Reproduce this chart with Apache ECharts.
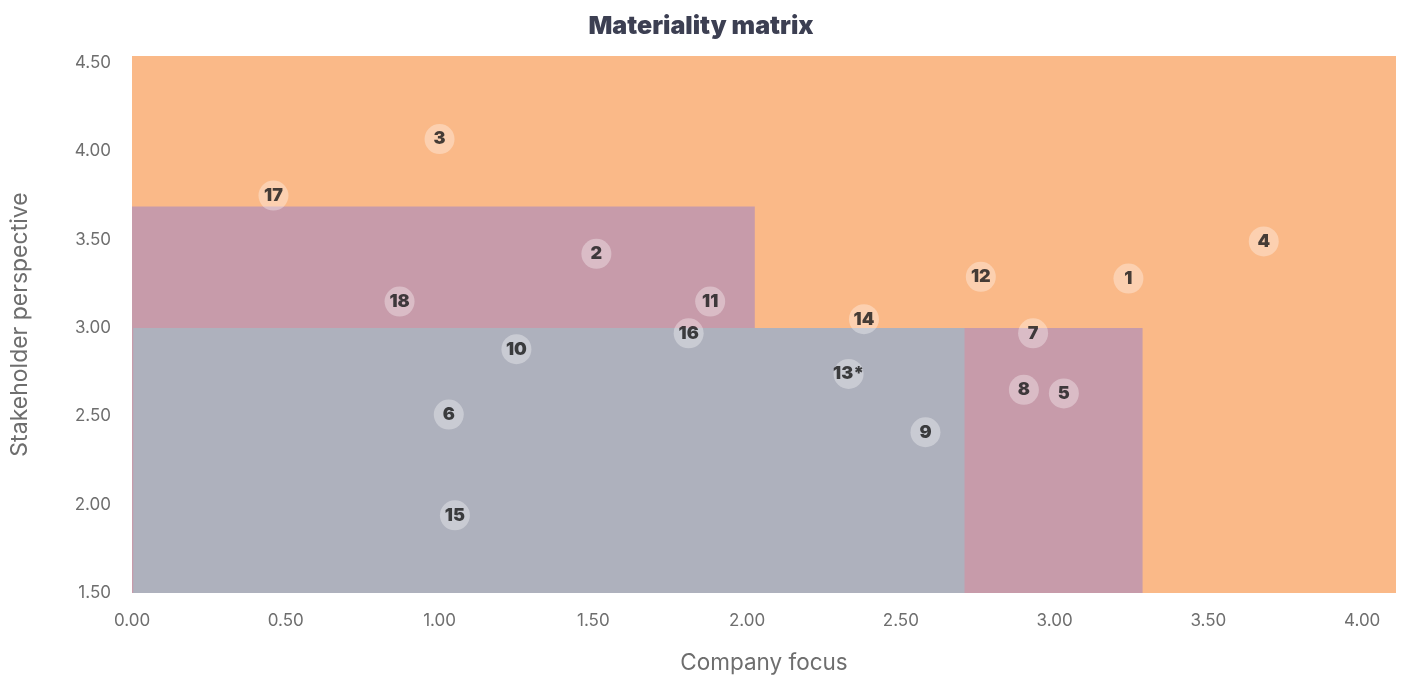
<!DOCTYPE html>
<html>
<head>
<meta charset="utf-8">
<title>Materiality matrix</title>
<script src="https://cdn.jsdelivr.net/npm/echarts@6/dist/echarts.min.js"></script>
<style>
  html, body { margin: 0; padding: 0; background: #ffffff; }
  #chart { width: 1402px; height: 680px; }
</style>
</head>
<body>
<div id="chart"></div>
<script>
// Topic identifiers and their scores
const topicIds = ['1', '2', '3', '4', '5', '6', '7', '8', '9', '10', '11', '12', '13*', '14', '15', '16', '17', '18'];
const companyFocus = [3.24, 1.51, 1.00, 3.68, 3.03, 1.03, 2.93, 2.90, 2.58, 1.25, 1.88, 2.76, 2.33, 2.38, 1.05, 1.81, 0.46, 0.87];
const stakeholderPerspective = [3.28, 3.42, 4.07, 3.49, 2.63, 2.51, 2.97, 2.65, 2.41, 2.88, 3.15, 3.29, 2.74, 3.05, 1.94, 2.97, 3.75, 3.15];

// Priority zones (drawn in this order, later ones on top)
const zoneNames = ['high', 'medium-upper', 'medium-lower', 'low'];
const zoneXFrom = [0, 0, 0, 0.004];
const zoneXTo = [4.11, 2.025, 3.286, 2.707];
const zoneYFrom = [1.5, 3.0, 1.5, 1.5];
const zoneYTo = [4.54, 3.688, 3.0, 3.0];

// Axis tick values
const xTicks = [0, 0.5, 1, 1.5, 2, 2.5, 3, 3.5, 4];
const yTicks = [1.5, 2, 2.5, 3, 3.5, 4, 4.5];

const zoneColors = {
  'high': '#FAB988',
  'medium-upper': '#C79BAA',
  'medium-lower': '#C79BAA',
  'low': '#AEB1BD'
};

const zoneData = zoneNames.map((n, i) => ({
  name: n,
  value: [zoneXFrom[i], zoneXTo[i], zoneYFrom[i], zoneYTo[i]]
}));

const pointData = topicIds.map((id, i) => ({
  name: id,
  value: [companyFocus[i], stakeholderPerspective[i]]
}));

const axisFont = 'Inter, "Noto Sans", sans-serif';

const chart = echarts.init(document.getElementById('chart'), null, { renderer: 'canvas' });

chart.setOption({
  animation: false,
  backgroundColor: '#ffffff',
  title: {
    text: 'Materiality matrix',
    left: 'center',
    top: 9,
    textStyle: {
      fontFamily: axisFont,
      fontWeight: 900,
      fontSize: 25,
      color: '#3C3F52'
    }
  },
  grid: { left: 132, right: 6, top: 56, bottom: 86 },
  xAxis: {
    type: 'value',
    min: 0,
    max: 4.11,
    interval: 0.5,
    name: 'Company focus',
    nameLocation: 'middle',
    nameGap: 59,
    nameTextStyle: { fontFamily: axisFont, fontSize: 22.5, color: '#6E6E6E' },
    axisLine: { show: false },
    axisTick: { show: false },
    splitLine: { show: false },
    axisLabel: {
      showMaxLabel: false,
      margin: 19,
      fontFamily: axisFont,
      fontSize: 17,
      color: '#6E6E6E',
      formatter: v => (xTicks.includes(+v.toFixed(2)) ? v.toFixed(2) : '')
    }
  },
  yAxis: {
    type: 'value',
    min: 1.5,
    max: 4.54,
    interval: 0.5,
    name: 'Stakeholder perspective',
    nameLocation: 'middle',
    nameGap: 100,
    nameTextStyle: { fontFamily: axisFont, fontSize: 23, color: '#6E6E6E' },
    axisLine: { show: false },
    axisTick: { show: false },
    splitLine: { show: false },
    axisLabel: {
      showMaxLabel: false,
      margin: 21,
      fontFamily: axisFont,
      fontSize: 17,
      color: '#6E6E6E',
      formatter: v => (yTicks.includes(+v.toFixed(2)) ? v.toFixed(2) : '')
    }
  },
  series: [
    {
      type: 'custom',
      name: 'zones',
      silent: true,
      z: 1,
      data: zoneData,
      renderItem: (params, api) => {
        const p0 = api.coord([api.value(0), api.value(3)]);
        const p1 = api.coord([api.value(1), api.value(2)]);
        const name = zoneNames[params.dataIndex];
        return {
          type: 'rect',
          shape: { x: p0[0], y: p0[1], width: p1[0] - p0[0], height: p1[1] - p0[1] },
          style: { fill: zoneColors[name] }
        };
      }
    },
    {
      type: 'scatter',
      name: 'topics',
      z: 3,
      symbol: 'circle',
      symbolSize: 30,
      data: pointData,
      itemStyle: { color: 'rgba(255,255,255,0.42)' },
      label: {
        show: true,
        position: 'inside',
        formatter: p => p.name,
        fontFamily: axisFont,
        fontWeight: 900,
        fontSize: 18,
        color: '#161618'
      }
    }
  ]
});
</script>
</body>
</html>
